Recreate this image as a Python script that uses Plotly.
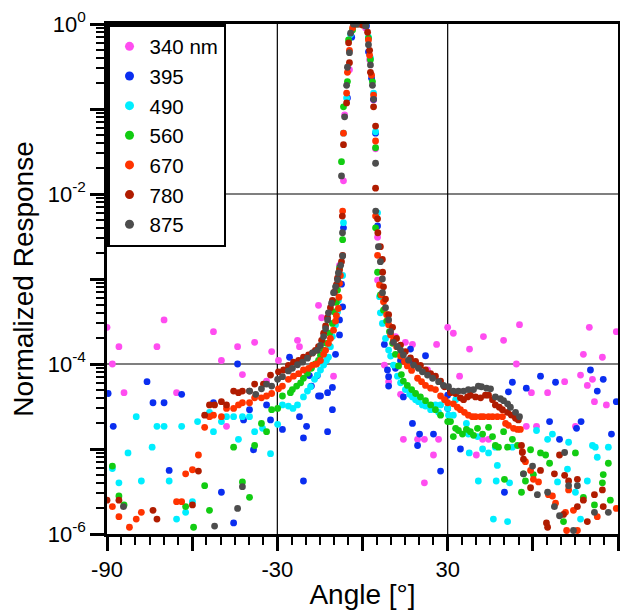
import plotly.graph_objects as go

# ---------------- data (angle in degrees, normalized response) ----------------
labels = ["340 nm", "395", "490", "560", "670", "780", "875"]
colors = ["#FF4DF0", "#0A2EF0", "#00EEFF", "#12CC12", "#FF3300", "#B01C00", "#4D4D4D"]

ang_340 = [-90, -88.1, -85.8, -84, -72.4, -69.9, -65.5, -52.5, -49.7, -47.9, -44, -42.3, -38, -33.8, -32, -29.6,
           -22.9, -22.2, -15.5, -14.4, -10.6, -10.2, -8.1, -6.7, -6.3, -4.6, -2.8, 1.1, 2.5, 3.9, 4.6, 5.3, 5.3,
           7.7, 9.2, 11.6, 13.4, 14.4, 15.1, 17.6, 19.4, 21.8, 21.8, 22.9, 25, 26.1, 26.8, 30, 32, 34.2, 37.7,
           40.1, 42.3, 42.6, 44.4, 49.7, 54.2, 55.3, 57.7, 59.5, 61.3, 65.2, 71.2, 75, 76.8, 77.8, 79.2, 79.9,
           81, 81.7, 84.5, 85.9, 89.4]
val_340 = [2.7e-4, 1.0e-4, 1.6e-4, 4.6e-5, 1.6e-4, 3.3e-4, 4.6e-5, 2.4e-4, 1.1e-4, 1.85e-5, 1.6e-4, 7.5e-5, 1.8e-4,
           6.3e-5, 1.4e-4, 1.1e-4, 1.9e-4, 1.6e-4, 4.9e-4, 3.5e-4, 5.3e-4, 7.2e-5, 1.45e-3, 0.0143, 0.085, 0.29,
           1.0, 0.9, 0.38, 0.128, 0.034, 0.0031, 0.00097, 9.7e-5, 6.2e-5, 2.1e-4, 4.4e-5, 1.3e-5, 1.8e-4, 1.7e-4,
           1.3e-5, 1.3e-5, 4.0e-6, 8.5e-5, 8.5e-6, 1.7e-4, 1.3e-5, 2.7e-4, 2.3e-4, 7.2e-5, 1.5e-4, 8.5e-6, 1.3e-5,
           2.1e-4, 1.3e-5, 1.9e-4, 1.0e-4, 2.9e-4, 1.85e-5, 4.6e-5, 1.85e-5, 4.6e-5, 6.2e-5, 1.85e-5, 7.4e-5,
           1.3e-4, 5.6e-5, 2.7e-4, 6.6e-5, 3.6e-5, 1.2e-4, 3.3e-5, 2.4e-4]

ang_395 = [-89.6, -87.8, -75.9, -73.8, -69.9, -68.1, -63.7, -52.5, -49.7, -45.4, -44, -41.9, -39.8, -38.4, -33.8,
           -32.4, -28.2, -25.7, -22.2, -20.8, -20.8, -19.7, -18.7, -18, -15.9, -15.5, -14.8, -12.3, -12.3, -10.6,
           -10.6, -9.5, -8.1, -8.1, -7, -7.4, -6.7, -5.3, -3.8, -1.1, 1.4, 2.1, 3.2, 3.9, 4.6, 5.3, 7.7, 8.8, 9.2,
           9.2, 11.6, 13.4, 14.4, 16.9, 18, 17.6, 20.1, 19.4, 22.2, 25, 27.5, 30, 30, 34.5, 50, 51.4, 52.8, 57.7,
           62.7, 65.9, 68, 69.4, 75.4, 77, 80.3, 82.7, 84.8, 87.7, 89.4]
val_395 = [4.5e-5, 1.85e-5, 6.2e-5, 3.5e-5, 3.5e-5, 5.6e-6, 4.4e-5, 3.5e-5, 3.1e-6, 1.35e-6, 1.0e-4, 2.2e-5, 2.9e-5,
           9.8e-6, 3.3e-5, 2.2e-5, 1.7e-5, 1.2e-4, 2.4e-5, 1.35e-5, 4.2e-6, 1.85e-5, 7.3e-5, 5.5e-5, 7.3e-5, 4.2e-5,
           4.2e-5, 4.6e-5, 1.6e-5, 2.9e-5, 5.3e-5, 1.3e-4, 2.2e-4, 3.3e-4, 4.7e-4, 8.7e-4, 0.0040, 0.135, 0.7, 1.0,
           0.95, 0.47, 0.23, 0.13, 0.052, 0.0042, 1.7e-4, 8.5e-5, 7.1e-5, 5.5e-5, 8.9e-5, 1.1e-4, 4.1e-5, 1.5e-4,
           1.0e-4, 2.0e-5, 1.5e-5, 1.1e-5, 1.25e-4, 1.5e-5, 5.5e-6, 4.3e-5, 3.0e-5, 1.0e-5, 3.1e-6, 4.7e-5, 6.1e-5,
           5.2e-5, 7.2e-5, 2.1e-5, 6.1e-5, 1.3e-5, 1.75e-5, 2.1e-5, 8.5e-5, 4.8e-5, 6.6e-5, 1.5e-5, 3.6e-5]

ang_490 = [-88.1, -85.8, -82.6, -79.7, -77.9, -74.1, -72.4, -69.9, -68.1, -65.5, -63.7, -62.3, -59.9, -58.1, -53.9,
           -52.5, -49.7, -47.9, -45.4, -43.7, -42.3, -39.8, -38, -35.2, -32.4, -29.9, -28.2, -26.1, -24.5, -22.9,
           -20.8, -19.4, -18.3, -16.9, -15.9, -14.8, -13.7, -12.7, -12, -11.3, -10.6, -9.5, -8.8, -8.5, -7, -6.7,
           -6.7, -5.6, -4.2, -0.35, 1.1, 2.1, 2.8, 3.9, 4.6, 5.3, 6, 6.3, 7, 8.1, 9.2, 9.9, 10.9, 12.3, 13.4, 15.1,
           16.6, 17.6, 18.7, 19.7, 21.1, 22.2, 24, 25.7, 26.8, 27.5, 30, 30.3, 32, 32.8, 36.6, 37, 37.3, 37.6, 40.5,
           40.8, 42.3, 44.4, 46.1, 46.8, 47.1, 47.5, 51.1, 51.8, 52.8, 61.3, 65.2, 66.9, 68.7, 72.2, 72.6, 75, 76.8,
           79.2, 81, 82, 82.7, 86.6]
val_490 = [5.9e-6, 4.0e-6, 9.0e-6, 2.4e-5, 4.2e-6, 1.05e-5, 1.85e-5, 1.85e-5, 4.2e-6, 1.5e-6, 1.85e-5, 1.8e-6,
           2.4e-6, 2.1e-5, 2.7e-5, 1.6e-5, 2.1e-5, 2.4e-5, 2.4e-5, 1.3e-5, 2.4e-5, 2.4e-5, 1.6e-5, 1.75e-5, 8.8e-6,
           1.95e-5, 3.3e-5, 3.2e-5, 3.0e-5, 3.3e-5, 4.1e-5, 4.8e-5, 5.4e-5, 6.6e-5, 7.4e-5, 8.5e-5, 9.7e-5, 1.1e-4,
           1.2e-4, 1.6e-4, 2.1e-4, 2.9e-4, 4.1e-4, 5.6e-4, 1.1e-3, 0.0046, 0.052, 0.135, 0.75, 1.0, 0.98, 0.7, 0.4,
           0.154, 0.054, 0.0060, 6.2e-4, 4.0e-4, 3.0e-4, 2.0e-4, 1.46e-4, 1.24e-4, 9.7e-5, 7.2e-5, 6.0e-5, 5.0e-5,
           4.4e-5, 4.1e-5, 3.8e-5, 3.6e-5, 3.3e-5, 3.2e-5, 2.9e-5, 3.3e-5, 2.7e-5, 3.3e-5, 3.0e-5, 2.5e-5, 2.5e-5,
           3.8e-5, 2.0e-5, 1.65e-5, 1.5e-5, 9.0e-6, 1.4e-5, 4.2e-6, 1.0e-5, 9.0e-6, 1.5e-6, 1.05e-5, 4.2e-6, 6.4e-6,
           1.4e-6, 4.0e-6, 1.05e-5, 1.65e-5, 1.3e-5, 1.5e-5, 4.1e-6, 5.8e-6, 1.2e-5, 3.1e-6, 1.5e-6, 4.2e-6, 1.1e-5,
           1.05e-5, 8.0e-6, 1.05e-5]

ang_560 = [-88.1, -85.8, -84, -62.3, -59.5, -55.6, -53.9, -45.4, -42.3, -39.8, -38, -35.6, -33.8, -32, -29.9, -28.2,
           -25.4, -24.7, -23.2, -21.8, -20.8, -19.4, -18, -16.6, -15.5, -14.8, -13.7, -12.7, -11.6, -10.6, -9.9,
           -9.2, -8.8, -8.1, -7, -7.4, -6.7, -5.3, -4.9, -3.5, -1.8, 1.1, 2.1, 2.8, 3.5, 4.6, 4.6, 5.3, 6.3, 7.4,
           8.5, 9.5, 10.6, 11.6, 12.7, 13.7, 14.4, 15.8, 17.3, 18.7, 20.4, 22.2, 24, 25.7, 27.5, 30, 31, 32, 32.8,
           33.8, 35.2, 36.6, 38, 39.1, 40.5, 42.3, 44.4, 45.8, 46.8, 47.9, 49.7, 50, 51.1, 52.8, 54.6, 56, 56.7,
           57.4, 59.2, 60.2, 62.7, 64.5, 65.9, 70.8, 75, 77.8, 81.7, 84.5, 84.8, 86.6, 87.3]
val_560 = [6.3e-6, 2.8e-6, 2.2e-6, 2.1e-6, 1.2e-6, 3.7e-6, 1.9e-6, 1.05e-5, 4.1e-6, 2.7e-6, 1.1e-5, 2.0e-5, 1.6e-5,
           2.9e-5, 3.0e-5, 4.2e-5, 4.6e-5, 5.0e-5, 5.5e-5, 6.0e-5, 6.8e-5, 7.8e-5, 8.9e-5, 1.0e-4, 1.1e-4, 1.27e-4,
           1.45e-4, 1.75e-4, 2.3e-4, 3.0e-4, 4.1e-4, 5.3e-4, 7.4e-4, 1.35e-3, 0.0029, 0.024, 0.106, 0.21, 0.65, 0.85,
           1.0, 0.97, 0.68, 0.38, 0.21, 0.035, 0.0040, 0.0012, 6.5e-4, 4.3e-4, 3.2e-4, 2.4e-4, 1.75e-4, 1.3e-4,
           9.5e-5, 7.5e-5, 6.3e-5, 5.6e-5, 5.0e-5, 4.5e-5, 4.1e-5, 3.7e-5, 3.3e-5, 2.9e-5, 2.5e-5, 2.1e-5, 2.1e-5,
           1.4e-5, 1.75e-5, 1.65e-5, 1.5e-5, 1.7e-5, 1.6e-5, 1.45e-5, 1.75e-5, 1.5e-5, 1.8e-5, 1.4e-5, 1.1e-5,
           1.05e-5, 1.6e-5, 4.4e-6, 1.05e-5, 1.3e-5, 1.1e-5, 3.1e-6, 5.1e-6, 4.2e-6, 9.8e-6, 5.0e-6, 9.0e-6, 8.5e-6,
           6.8e-6, 1.4e-6, 9.0e-6, 2.7e-6, 2.2e-6, 4.0e-6, 5.0e-6, 6.8e-6, 2.5e-6]

ang_670 = [-88.1, -85.8, -82.1, -79.7, -77.9, -65.5, -63.7, -62.3, -59.9, -57.8, -55.6, -53.9, -52.5, -49.7, -47.9,
           -45.4, -43.7, -42.3, -39.8, -38, -35.6, -33.8, -32, -29.6, -28.2, -26.1, -24.3, -22.5, -20.8, -19, -17.6,
           -16.2, -14.8, -13.7, -13, -12, -11.3, -10.2, -9.5, -9.2, -8.5, -8.3, -8.1, -7.8, -7, -6.7, -5.6, -5.3,
           -4.6, -3.5, -1.4, 0.7, 2.1, 2.5, 3.2, 3.9, 4.6, 4.6, 5.3, 6, 6.7, 7.4, 8.5, 9.2, 9.9, 10.9, 12, 13.4,
           14.8, 15.8, 17.3, 19.4, 20.8, 22.2, 24, 25.7, 27.5, 28.9, 30, 32, 33.4, 34.5, 35.9, 37.3, 38.7, 39.8,
           41.6, 42.6, 44.4, 45.8, 47.5, 49.3, 50.4, 51.4, 53.2, 54.6, 55.6, 56.3, 57.4, 59.2, 60.2, 62, 65.5, 66.9,
           68, 71.5, 71.9, 72.6, 74.3, 75.7, 82.7, 89.4]
val_670 = [2.1e-6, 1.6e-6, 1.2e-6, 1.5e-6, 1.8e-6, 2.4e-6, 2.4e-6, 5.1e-6, 5.7e-6, 8.5e-6, 1.8e-5, 2.4e-5, 2.5e-5,
           2.4e-5, 3.0e-5, 3.0e-5, 3.3e-5, 3.5e-5, 3.5e-5, 4.0e-5, 4.0e-5, 4.2e-5, 4.5e-5, 5.1e-5, 5.5e-5, 6.6e-5,
           7.2e-5, 7.7e-5, 8.5e-5, 8.9e-5, 9.7e-5, 1.0e-4, 1.1e-4, 1.3e-4, 1.45e-4, 1.75e-4, 2.0e-4, 2.5e-4, 3.2e-4,
           3.7e-4, 4.5e-4, 6.1e-4, 8.9e-4, 1.1e-3, 0.0063, 0.052, 0.154, 0.27, 0.49, 0.9, 1.0, 0.98, 0.65, 0.43,
           0.25, 0.146, 0.042, 0.0055, 0.0019, 8.5e-4, 6.5e-4, 5.4e-4, 3.8e-4, 2.9e-4, 2.2e-4, 1.9e-4, 1.6e-4,
           1.24e-4, 1.07e-4, 9.5e-5, 8.4e-5, 6.8e-5, 6.2e-5, 5.6e-5, 5.2e-5, 5.0e-5, 4.2e-5, 3.8e-5, 3.5e-5, 3.4e-5,
           3.1e-5, 2.9e-5, 2.7e-5, 2.5e-5, 2.4e-5, 2.4e-5, 2.4e-5, 2.4e-5, 2.4e-5, 2.4e-5, 2.4e-5, 2.4e-5, 2.0e-5,
           1.9e-5, 1.75e-5, 1.7e-5, 1.7e-5, 9.3e-6, 7.1e-6, 5.6e-6, 4.4e-6, 4.1e-6, 2.9e-6, 2.8e-6, 2.3e-6, 1.8e-6,
           1.1e-6, 3.3e-6, 1.9e-6, 1.1e-6, 1.6e-6, 2.0e-6]

ang_780 = [-90, -85.8, -73.8, -72.4, -59.9, -57.8, -55.6, -53.9, -52.1, -49.7, -47.9, -45.4, -43.7, -42.3, -39.8,
           -38, -34.9, -32.4, -29.6, -27.8, -26.1, -24.3, -22.5, -20.8, -19, -17.6, -16.6, -15.5, -14.4, -13.7, -13,
           -12.3, -11.3, -10.6, -9.9, -9.2, -8.8, -8.1, -7.4, -7, -7.1, -6.7, -5.6, -4.6, -4.9, -2.5, 0, 1.8, 2.5,
           2.8, 3.9, 4.6, 4.6, 5.3, 5.4, 6.3, 7, 7.1, 7.4, 8.1, 9.2, 10.6, 12, 13.4, 15.1, 16.9, 18.7, 20.4, 22.2,
           24, 25.7, 27.5, 28.9, 31, 32.8, 34.5, 35.6, 37, 38, 39.8, 41.6, 43.3, 44.4, 45.8, 46.8, 48.2, 49.3, 51.1,
           52.4, 53.9, 54.9, 56, 56.3, 56.7, 59.2, 62.7, 64.8, 65.2, 67.6, 69.4, 70.8, 71.2, 72.6, 75.7, 75.7, 77.8,
           79.2, 81.7, 84.5, 84.8]
val_780 = [2.5e-6, 2.5e-6, 1.9e-6, 1.5e-6, 2.2e-6, 5.5e-6, 2.5e-5, 3.3e-5, 3.3e-5, 3.6e-5, 3.3e-5, 4.8e-5, 4.6e-5,
           4.8e-5, 4.8e-5, 5.8e-5, 5.8e-5, 7.4e-5, 8.1e-5, 8.5e-5, 9.6e-5, 1.05e-4, 1.1e-4, 1.2e-4, 1.28e-4, 1.35e-4,
           1.45e-4, 1.6e-4, 1.9e-4, 2.3e-4, 2.8e-4, 3.5e-4, 4.6e-4, 5.6e-4, 7.0e-4, 8.5e-4, 1.02e-3, 1.28e-3,
           1.6e-3, 1.9e-3, 0.0055, 0.038, 0.118, 0.35, 0.6, 1.0, 0.97, 0.8, 0.49, 0.27, 0.106, 0.063, 0.0117,
           0.0051, 0.0035, 0.0024, 0.0017, 0.0012, 8.1e-4, 5.8e-4, 3.8e-4, 2.7e-4, 2.0e-4, 1.67e-4, 1.4e-4, 1.18e-4,
           1.07e-4, 9.6e-5, 8.5e-5, 7.7e-5, 7.2e-5, 6.3e-5, 5.4e-5, 4.6e-5, 4.5e-5, 4.0e-5, 3.8e-5, 4.1e-5, 4.3e-5,
           4.1e-5, 4.0e-5, 4.3e-5, 4.3e-5, 3.8e-5, 3.3e-5, 3.1e-5, 2.9e-5, 2.7e-5, 2.5e-5, 2.3e-5, 2.2e-5, 1.1e-5,
           9.1e-6, 7.6e-6, 3.5e-6, 5.6e-6, 1.35e-6, 1.2e-6, 5.1e-6, 8.5e-6, 1.7e-6, 4.9e-6, 4.2e-6, 4.4e-6, 2.1e-6,
           2.5e-6, 1.4e-6, 2.9e-6, 3.3e-6, 2.1e-6]

ang_875 = [-84.2, -52.1, -44, -42.3, -39.8, -37.6, -35.6, -33.8, -32, -29.9, -28.2, -26.1, -24.7, -22.9, -21.1,
           -19.4, -17.6, -15.9, -14.8, -13.7, -13, -12.3, -12, -10.9, -10.2, -9.5, -8.8, -8.5, -7.7, -7, -7.05,
           -7.4, -6.3, -5.6, -5.3, -4.6, -4.2, -3.2, -2.1, 1.1, 2.1, 2.8, 3.5, 3.9, 4.6, 4.65, 5.6, 6.3, 7, 7.05,
           8.1, 9.2, 9.9, 10.9, 12.3, 13.4, 14.4, 16.2, 18, 19.7, 21.1, 22.9, 24.7, 26.8, 28.5, 30.3, 32, 33.8,
           35.6, 37.3, 39.1, 40.8, 41.9, 43.7, 45.1, 46.8, 48.6, 49.7, 51.1, 52.1, 53.9, 55.3, 56.7, 59.9, 61.6,
           65.2, 67.6, 69.4, 71.2, 72.6, 74.3, 75.7, 81.7, 86.6]
val_875 = [2.1e-6, 1.24e-6, 2.0e-6, 3.6e-6, 4.8e-5, 4.4e-5, 5.1e-5, 5.8e-5, 5.5e-5, 6.6e-5, 7.1e-5, 8.3e-5, 8.9e-5,
           9.8e-5, 1.05e-4, 1.17e-4, 1.35e-4, 1.45e-4, 1.66e-4, 2.1e-4, 2.6e-4, 3.3e-4, 4.0e-4, 5.2e-4, 6.9e-4,
           8.1e-4, 9.8e-4, 1.18e-3, 1.45e-3, 1.87e-3, 0.0035, 0.0163, 0.081, 0.19, 0.31, 0.46, 0.78, 1.0, 1.0, 0.95,
           0.57, 0.33, 0.19, 0.13, 0.023, 0.0063, 0.0024, 0.0016, 0.0010, 6.9e-4, 4.6e-4, 3.3e-4, 2.4e-4, 1.8e-4,
           1.6e-4, 1.46e-4, 1.28e-4, 1.11e-4, 9.7e-5, 8.9e-5, 8.1e-5, 7.4e-5, 6.8e-5, 6.2e-5, 5.6e-5, 5.4e-5, 4.8e-5,
           4.8e-5, 4.8e-5, 5.0e-5, 5.0e-5, 5.5e-5, 5.4e-5, 5.2e-5, 5.1e-5, 4.1e-5, 3.9e-5, 3.7e-5, 3.4e-5, 3.1e-5,
           2.7e-5, 2.4e-5, 5.1e-6, 6.3e-6, 2.9e-6, 3.1e-6, 2.1e-6, 1.64e-6, 9.1e-6, 3.7e-6, 1.1e-6, 3.7e-6, 1.8e-6,
           1.8e-6]

x_tickvals = [-90, -60, -30, 0, 30, 60, 90]
x_ticktext = ["-90", "", "-30", "", "30", "", "90"]
y_tickvals = [1e-6, 1e-5, 1e-4, 1e-3, 1e-2, 1e-1, 1]
y_ticktext = ["10<sup>-6</sup>", "", "10<sup>-4</sup>", "", "10<sup>-2</sup>", "", "10<sup>0</sup>"]
grid_x = [-30, 30]
grid_y = [1e-4, 1e-2]

series = [(ang_340, val_340), (ang_395, val_395), (ang_490, val_490), (ang_560, val_560),
          (ang_670, val_670), (ang_780, val_780), (ang_875, val_875)]
for a, v in series:
    assert len(a) == len(v), (len(a), len(v))

FONT = "Liberation Sans, Arial, Helvetica, sans-serif"

fig = go.Figure()
for (a, v), c in zip(series, colors):
    fig.add_trace(go.Scatter(x=a, y=v, mode="markers", showlegend=False, hoverinfo="skip",
                             marker=dict(size=6.8, color=c, line=dict(width=0))))
for lab, c in zip(labels, colors):
    fig.add_trace(go.Scatter(x=[None], y=[None], mode="markers", name=lab,
                             marker=dict(size=9, color=c, line=dict(width=0))))

shapes = []
for gx in grid_x:
    shapes.append(dict(type="line", xref="x", yref="paper", x0=gx, x1=gx, y0=0, y1=1,
                       line=dict(color="black", width=1.2), layer="below"))
for gy in grid_y:
    shapes.append(dict(type="line", xref="paper", yref="y", x0=0, x1=1, y0=gy, y1=gy,
                       line=dict(color="black", width=1.2), layer="below"))

minor_y = [m * 10.0 ** e for e in range(-6, 0) for m in range(2, 10)]

# the page body has an 8 px margin, so the figure is 8 px smaller than the window
fig.update_layout(
    width=620, height=602,
    margin=dict(l=99, r=10, t=16, b=76, autoexpand=False),
    paper_bgcolor="white", plot_bgcolor="white",
    font=dict(family=FONT, color="black", size=22),
    shapes=shapes,
    showlegend=True,
    legend=dict(x=0, y=1, xanchor="left", yanchor="top", xref="paper", yref="paper",
                bgcolor="white", bordercolor="black", borderwidth=2.5,
                font=dict(family=FONT, size=20.5, color="black"), itemwidth=30, tracegroupgap=0,
                entrywidth=82, entrywidthmode="pixels"),
    xaxis=dict(range=[-90, 90], tickmode="array", tickvals=x_tickvals, ticktext=x_ticktext,
               automargin=False,
               ticks="outside", ticklen=14, tickwidth=2.5, tickcolor="black",
               showline=True, linewidth=2.5, linecolor="black", mirror=True,
               showgrid=False, zeroline=False,
               minor=dict(dtick=5, tick0=0, ticks="outside", ticklen=8, tickwidth=2,
                          tickcolor="black", showgrid=False),
               tickfont=dict(size=22),
               title=dict(text="Angle [°]", font=dict(size=28), standoff=4)),
    yaxis=dict(type="log", range=[-6, 0], tickmode="array", tickvals=y_tickvals, ticktext=y_ticktext,
               automargin=False,
               ticks="outside", ticklen=14, tickwidth=2.5, tickcolor="black",
               showline=True, linewidth=2.5, linecolor="black", mirror=True,
               showgrid=False, zeroline=False,
               minor=dict(tickmode="array", tickvals=minor_y, ticks="outside", ticklen=8, tickwidth=2,
                          tickcolor="black", showgrid=False),
               tickfont=dict(size=22),
               title=dict(text="Normalized Response", font=dict(size=28), standoff=8)),
)

fig.write_html("out.html")
